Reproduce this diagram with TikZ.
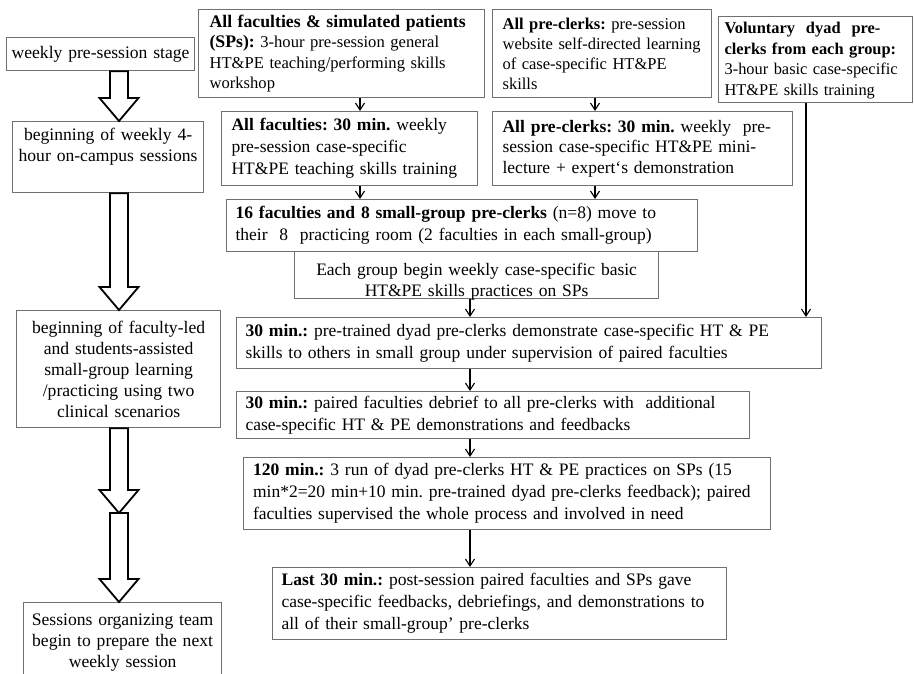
\documentclass[tikz,border=0pt]{standalone}
\usepackage{fontspec}
\setmainfont{Liberation Serif}
\usetikzlibrary{arrows.meta,positioning,calc}
\definecolor{edgegray}{HTML}{707070}
\frenchspacing

\begin{document}
\begin{tikzpicture}[
    x=1pt, y=-1pt,
    font=\fontsize{17.5}{22}\selectfont,
    stage_box/.style={draw=edgegray, line width=1.2pt, fill=white, anchor=north west, align=center, inner xsep=1pt, inner ysep=0pt, font=\fontsize{17.6}{21}\selectfont},
    step_box/.style={draw=edgegray, line width=1.2pt, fill=white, anchor=north west, align=left, inner ysep=0pt},
    arrow/.style={-{Straight Barb[length=7pt,width=9pt]}, line width=1.1pt},
    hollow_arrow/.style={draw, line width=1.8pt, fill=white}
  ]
  \useasboundingbox (0,0) rectangle (914,673);

  % left column: stages
  \node[stage_box, text width=186pt, minimum height=33pt] (stage) at (6,37) {weekly pre-session stage};
  \node[stage_box, text width=189pt, text height=19pt, text depth=52pt] (oncampus) at (12,121) {beginning of weekly 4-\\hour on-campus sessions};
  \node[stage_box, text width=202pt, minimum height=117pt] (smallgrp) at (16,310) {beginning of faculty-led\\and students-assisted\\small-group learning\\/practicing using two\\clinical scenarios};
  \node[stage_box, text width=196pt, text height=23pt, text depth=60pt] (nextweek) at (23,602) {Sessions organizing team\\begin to prepare the next\\weekly session};

  % pre-session
  \node[step_box, text width=264pt, inner xsep=11pt, minimum height=88pt, font=\fontsize{16.6}{20.5}\selectfont] (allfac) at (198,9) {{\fontsize{17.7}{20.5}\selectfont\bfseries All faculties \& simulated patients\\(SPs):} 3-hour pre-session general\\HT\&PE teaching/performing skills\\workshop};
  \node[step_box, text width=236pt, inner xsep=10pt, minimum height=74pt] (facmin) at (221,111) {\textbf{All faculties: 30 min.} weekly\\pre-session case-specific\\HT\&PE teaching skills training};
  \node[step_box, text width=199pt, inner xsep=10pt, minimum height=88pt, font=\fontsize{16.5}{20}\selectfont] (preclk) at (492,9) {\textbf{All pre-clerks:} pre-session\\website self-directed learning\\of case-specific HT\&PE\\skills};
  \node[step_box, text width=280pt, inner xsep=10pt, minimum height=74pt, font=\fontsize{17.5}{20.5}\selectfont] (clkmin) at (492,111) {\textbf{All pre-clerks: 30 min.} weekly\ \ pre-\\session case-specific HT\&PE mini-\\lecture + expert‘s demonstration};
  \node[step_box, text width=182pt, inner xsep=6pt, text height=17pt, text depth=69pt, font=\fontsize{16.4}{20.5}\selectfont] (volun) at (718,16) {\textbf{Voluntary\ \ dyad\ \ pre-}\\\textbf{clerks from each group:}\\3-hour basic case-specific\\HT\&PE skills training};

  % on-campus session
  \node[stage_box, text width=362pt, text height=24pt, text depth=23pt, font=\fontsize{17.5}{21}\selectfont] (begin) at (294,251) {Each group begin weekly case-specific basic\\HT\&PE skills practices on SPs};
  \node[step_box, text width=453pt, inner xsep=9pt, minimum height=52pt] (move) at (226,199) {\textbf{16 faculties and 8 small-group pre-clerks} (n=8) move to\\their\ \ 8\ \ practicing room (2 faculties in each small-group)};
  \node[step_box, text width=567pt, inner xsep=9pt, minimum height=51pt] (demo) at (236,317) {\textbf{30 min.:} pre-trained dyad pre-clerks demonstrate case-specific HT \& PE\\skills to others in small group under supervision of paired faculties};
  \node[step_box, text width=495pt, inner xsep=9pt, minimum height=47pt] (debrief) at (236,391) {\textbf{30 min.:} paired faculties debrief to all pre-clerks with\ \ additional\\case-specific HT \& PE demonstrations and feedbacks};
  \node[step_box, text width=508pt, inner xsep=9.5pt, minimum height=72pt] (practice) at (243,457) {\textbf{120 min.:} 3 run of dyad pre-clerks HT \& PE practices on SPs (15\\min*2=20 min+10 min. pre-trained dyad pre-clerks feedback); paired\\faculties supervised the whole process and involved in need};
  \node[step_box, text width=436pt, inner xsep=9pt, minimum height=72pt] (last) at (272,567) {\textbf{Last 30 min.:} post-session paired faculties and SPs gave\\case-specific feedbacks, debriefings, and demonstrations to\\all of their small-group' pre-clerks};

  % connector columns
  \coordinate (ax) at (119,0);
  \coordinate (xa) at (360,0);
  \coordinate (xb) at (595,0);
  \coordinate (xc) at (470,0);
  \coordinate (xd) at (806,0);
  \coordinate (split) at (119,513);

  \draw[arrow] (allfac.south -| xa) -- (facmin.north -| xa);
  \draw[arrow] (facmin.south -| xa) -- (move.north -| xa);
  \draw[arrow] (preclk.south -| xb) -- (clkmin.north -| xb);
  \draw[arrow] (clkmin.south -| xb) -- (move.north -| xb);
  \draw[arrow] (begin.south -| xc) -- (demo.north -| xc);
  \draw[arrow] (demo.south -| xc) -- (debrief.north -| xc);
  \draw[arrow] (debrief.south -| xc) -- (practice.north -| xc);
  \draw[arrow] (practice.south -| xc) -- (last.north -| xc);
  \draw[arrow] (volun.south -| xd) -- (demo.north -| xd);

  % big hollow arrows
  \foreach \f/\t in {stage.south/oncampus.north, oncampus.south/smallgrp.north, smallgrp.south/split, split/nextweek.north}
    \draw[hollow_arrow] ($(\f -| ax)+(-9,0)$) -- ($(\t -| ax)+(-9,-23)$) -- ($(\t -| ax)+(-19.5,-23)$) -- (\t -| ax)
      -- ($(\t -| ax)+(19.5,-23)$) -- ($(\t -| ax)+(9,-23)$) -- ($(\f -| ax)+(9,0)$) -- cycle;
\end{tikzpicture}
\end{document}
